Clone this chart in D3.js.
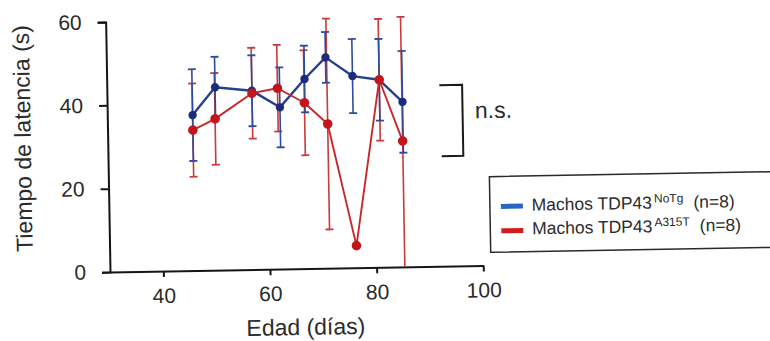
<!DOCTYPE html>
<html>
<head>
<meta charset="utf-8">
<script src="https://cdn.jsdelivr.net/npm/d3@7/dist/d3.min.js"></script>
<style>
  html, body { margin: 0; padding: 0; background: #ffffff; }
  svg { display: block; font-family: "Liberation Sans", Arial, Helvetica, sans-serif; }
</style>
</head>
<body>
<svg id="chart" width="770" height="341"></svg>
<script>
// ---- data ----
const ageNoTg  = [46.0, 50.3, 57.2, 62.4, 67.1, 71.1, 76.1, 81.1, 85.4];
const latNoTg  = [37.3, 43.9, 42.9, 38.8, 45.5, 50.6, 46.0, 45.0, 39.6];
const semNoTg  = [11.0, 7.3, 8.5, 9.6, 8.0, 6.1, 8.9, 9.8, 12.2];

const ageA315T = [46.0, 50.2, 57.2, 62.0, 67.0, 71.3, 76.3, 81.1, 85.3];
const latA315T = [33.7, 36.3, 42.3, 43.4, 39.8, 34.6, 5.3, 45.0, 30.2];
const semA315T = [11.2, 11.0, 10.9, 10.4, 12.6, 25.3, 0, 14.6, 33.0];

const xTicks = [40, 60, 80, 100];
const yTicks = [0, 20, 40, 60];
const xDomain = [30, 100];
const yDomain = [0, 60];

const legendBase   = ["Machos TDP43", "Machos TDP43"];
const legendSup    = ["NoTg", "A315T"];
const legendSuffix = ["(n=8)", "(n=8)"];

const xTitle = "Edad (días)";
const yTitle = "Tiempo de latencia (s)";
const sigLabel = "n.s.";

// ---- drawing ----
const svg = d3.select("#chart");
const root = svg.append("g").attr("transform", "rotate(-1,110,272)");

const x = d3.scaleLinear().domain(xDomain).range([110, 483.3]);
const y = d3.scaleLinear().domain(yDomain).range([272, 22]);

const textCol = "#2b2b2b";
const axisCol = "#151515";

// axes
const gx = root.append("g").attr("transform", `translate(0,${y(0)})`)
  .call(d3.axisBottom(x).tickValues(xTicks).tickSize(6).tickSizeOuter(0).tickPadding(11));
const gy = root.append("g").attr("transform", `translate(${x(30)},0)`)
  .call(d3.axisLeft(y).tickValues(yTicks).tickSize(8).tickSizeOuter(8).tickPadding(16));
[gx, gy].forEach(g => {
  g.selectAll(".domain").attr("stroke", axisCol).attr("stroke-width", 2);
  g.selectAll(".tick line").attr("stroke", axisCol).attr("stroke-width", 2);
  g.selectAll(".tick text").attr("fill", textCol).style("font-size", "21px")
    .style("font-family", "'Liberation Sans', Arial, sans-serif");
});

// series definitions
const series = [
  { age: ageNoTg, lat: latNoTg, sem: semNoTg, line: "#27408e", dot: "#1d2c7a", err: "#2d4a9e", lw: 2.4, r: 4.2 },
  { age: ageA315T, lat: latA315T, sem: semA315T, line: "#c42a2a", dot: "#c2161b", err: "#c93a3a", lw: 1.9, r: 4.8 }
];

function drawErr(s, g) {
  const capW = 4;
  s.age.forEach((a, i) => {
    const e = s.sem[i];
    if (!e) return;
    const lo = Math.max(yDomain[0], s.lat[i] - e);
    const hi = Math.min(yDomain[1], s.lat[i] + e);
    const cx = x(a);
    g.append("line").attr("x1", cx).attr("x2", cx).attr("y1", y(lo)).attr("y2", y(hi))
      .attr("stroke", s.err).attr("stroke-width", 1.6);
    g.append("line").attr("x1", cx - capW).attr("x2", cx + capW).attr("y1", y(hi)).attr("y2", y(hi))
      .attr("stroke", s.err).attr("stroke-width", 1.8);
    if (lo > yDomain[0]) {
      g.append("line").attr("x1", cx - capW).attr("x2", cx + capW).attr("y1", y(lo)).attr("y2", y(lo))
        .attr("stroke", s.err).attr("stroke-width", 1.8);
    }
  });
}

function drawLine(s, g) {
  const pts = s.age.map((a, i) => [a, s.lat[i]]);
  g.append("path").datum(pts)
    .attr("d", d3.line().x(d => x(d[0])).y(d => y(d[1])))
    .attr("fill", "none").attr("stroke", s.line).attr("stroke-width", s.lw)
    .attr("stroke-linejoin", "round");
  g.selectAll(null).data(pts).enter().append("circle")
    .attr("cx", d => x(d[0])).attr("cy", d => y(d[1])).attr("r", s.r)
    .attr("fill", s.dot);
}

const gData = root.append("g");
drawErr(series[1], gData);
drawErr(series[0], gData);
drawLine(series[0], gData);
drawLine(series[1], gData);

// significance bracket
root.append("path")
  .attr("d", "M442.5,91 H465.3 V162 H443.7")
  .attr("fill", "none").attr("stroke", "#1a1a1a").attr("stroke-width", 2);
root.append("text").attr("x", 477.7).attr("y", 124.7)
  .attr("fill", textCol).style("font-size", "23px").text(sigLabel);

// legend
root.append("rect").attr("x", 491).attr("y", 183.3).attr("width", 300).attr("height", 75.6)
  .attr("fill", "#ffffff").attr("stroke", "#2a2a2a").attr("stroke-width", 1.5);
const swCols = ["#2a64c8", "#d21c1c"];
const legY = [218.1, 241.7];
const swY = [213.3, 237.7];
legendBase.forEach((b, i) => {
  root.append("line").attr("x1", 502).attr("x2", 524).attr("y1", swY[i]).attr("y2", swY[i])
    .attr("stroke", swCols[i]).attr("stroke-width", 5);
  const t = root.append("text").attr("x", 532.8).attr("y", legY[i])
    .attr("fill", textCol).style("font-size", "17.5px");
  t.append("tspan").text(b);
  t.append("tspan").attr("dx", 2).attr("dy", -6).style("font-size", "12px").text(legendSup[i]);
  t.append("tspan").attr("dx", 10).attr("dy", 6).text(legendSuffix[i]);
});

// axis titles
root.append("text").attr("x", 304.9).attr("y", 338.4).attr("text-anchor", "middle")
  .attr("fill", textCol).style("font-size", "23px").text(xTitle);
root.append("text").attr("transform", "translate(33,137) rotate(-90)").attr("text-anchor", "middle")
  .attr("fill", textCol).style("font-size", "23px").text(yTitle);
</script>
</body>
</html>
